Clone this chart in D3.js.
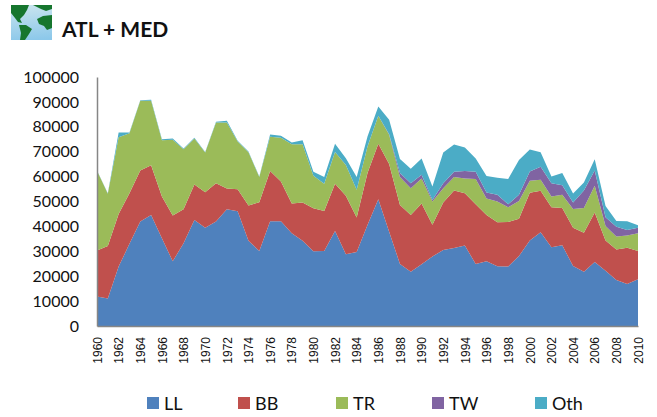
<!DOCTYPE html>
<html>
<head>
<meta charset="utf-8">
<script src="https://cdn.jsdelivr.net/npm/d3@7"></script>
<style>
  html, body { margin: 0; padding: 0; background: #fff; }
  svg { display: block; }
  text { font-family: Lato, "Open Sans", sans-serif; fill: #111; }
  .axis path { stroke: #868686; stroke-width: 1.5; }
  .axis line { display: none; }
  .x.axis text { font-family: "Liberation Sans", sans-serif; font-size: 12px; }
  .y.axis text { font-size: 16px; }
</style>
</head>
<body>
<svg id="chart" width="657" height="417"></svg>
<script>
const years = d3.range(1960, 2011)
const seriesNames = ['LL', 'BB', 'TR', 'TW', 'Oth']
const seriesColors = ['#4f81bd', '#c0504d', '#9bbb59', '#8064a2', '#4bacc6']
const yTicks = [0, 10000, 20000, 30000, 40000, 50000, 60000, 70000, 80000, 90000, 100000]

const LL = [11800, 11000, 23850, 33000, 42000, 44600, 35200, 26000, 33200, 42600,
  39500, 42000, 46900, 46100, 34200, 30150, 42100, 42100, 37250, 34200,
  30000, 30150, 38200, 28800, 29750, 40600, 50900, 37900, 24900, 21800,
  24800, 27900, 30550, 31300, 32300, 24900, 26000, 24000, 23850, 28100,
  34300, 37650, 31600, 32400, 24100, 21800, 25700, 22200, 18500, 16900,
  18800]
const BB = [18500, 21150, 21150, 20300, 20400, 20000, 16800, 18350, 13700, 14200,
  14200, 15350, 8300, 8800, 14200, 19550, 20100, 15900, 11950, 15400,
  17300, 16050, 18900, 23500, 13800, 20800, 22300, 27200, 23700, 22800,
  24400, 12800, 19050, 23100, 21000, 24000, 18600, 17700, 17950, 15000,
  19200, 16650, 16100, 15000, 15400, 15600, 19900, 12100, 12200, 14500,
  11350]
const TR = [32000, 20950, 30800, 24150, 28050, 25850, 22600, 30450, 24100, 18500,
  16000, 24350, 26500, 19200, 21400, 10100, 13800, 17600, 23800, 23400,
  13000, 10900, 12800, 12400, 11150, 10700, 11200, 11700, 11200, 10700,
  10000, 9300, 5700, 5400, 5900, 10100, 6600, 8300, 5900, 7150,
  4800, 4400, 4300, 5300, 7500, 10000, 10700, 5900, 5200, 4900,
  7100]
const TW = [0, 0, 0, 0, 0, 0, 0, 0, 0, 0,
  0, 0, 0, 0, 0, 0, 0, 0, 0, 0,
  0, 0, 0, 0, 0, 0, 0, 200, 1600, 2050,
  1500, 650, 2050, 2100, 3000, 2900, 2400, 2700, 1200, 2450,
  3700, 5300, 5350, 3800, 2600, 7000, 6100, 3500, 4000, 2300,
  2250]
const Oth = [200, 200, 1900, 250, 250, 450, 400, 500, 300, 300,
  200, 300, 700, 300, 300, 200, 900, 800, 700, 1600,
  1600, 2700, 3300, 2700, 5100, 4000, 3800, 5800, 5700, 5850,
  6600, 5350, 12350, 11000, 9500, 5400, 6600, 6800, 10100, 14000,
  8900, 5800, 2650, 4900, 3600, 3200, 4600, 4500, 2300, 3500,
  1000]

const margin = { left: 97, top: 77, right: 19, bottom: 91 }
const width = 657 - margin.left - margin.right
const height = 417 - margin.top - margin.bottom

const svg = d3.select('#chart')

/**
 * Draws the small globe picture next to the title.
 */
function drawIcon () {
  const defs = svg.append('defs')
  const sea = defs.append('linearGradient').attr('id', 'sea')
    .attr('x1', 0.4).attr('y1', 0).attr('x2', 0.5).attr('y2', 1)
  sea.append('stop').attr('offset', 0).attr('stop-color', '#c9e4ee')
  sea.append('stop').attr('offset', 1).attr('stop-color', '#8cc8ea')
  defs.append('filter').attr('id', 'soft')
    .append('feGaussianBlur').attr('stdDeviation', 0.6)

  const icon = svg.append('g').attr('transform', 'translate(11,5)')
  icon.append('rect').attr('width', 41).attr('height', 35).attr('fill', 'url(#sea)')
  const land = [
    'M0,0L18,0L16,5L13,10L9,14L11,18L7,17L4,13L0,8Z',
    'M22,0L41,0L41,4L35,6L30,4Z',
    'M26,14L32,11L41,10L41,23L36,25L33,21L28,19Z',
    'M8,20L15,20L21,24L18,29L14,35L9,35L10,28Z'
  ]
  icon.selectAll('path').data(land).join('path')
    .attr('d', d => d)
    .attr('fill', '#17762f')
    .attr('filter', 'url(#soft)')
}

/**
 * Draws the stacked areas and the two axes.
 */
function drawChart () {
  const rows = years.map((year, i) => ({
    year, LL: LL[i], BB: BB[i], TR: TR[i], TW: TW[i], Oth: Oth[i]
  }))
  const xScale = d3.scaleLinear().domain([1960, 2010]).range([0, width])
  const yScale = d3.scaleLinear().domain([0, 100000]).range([height, 0])
  const colorScale = d3.scaleOrdinal().domain(seriesNames).range(seriesColors)

  const stacked = d3.stack().keys(seriesNames)(rows)
  const area = d3.area()
    .x(d => xScale(d.data.year))
    .y0(d => yScale(d[0]))
    .y1(d => yScale(d[1]))

  const g = svg.append('g')
    .attr('transform', 'translate(' + margin.left + ',' + margin.top + ')')

  g.selectAll('.layer').data(stacked).join('path')
    .attr('class', 'layer')
    .attr('d', area)
    .attr('fill', d => colorScale(d.key))

  g.append('g')
    .attr('class', 'x axis')
    .attr('transform', 'translate(0,' + height + ')')
    .call(d3.axisBottom(xScale)
      .tickValues(years.filter(y => y % 2 === 0))
      .tickFormat(d3.format('d'))
      .tickSize(0)
      .tickSizeOuter(0))
    .selectAll('text')
    .attr('transform', 'rotate(-90)')
    .attr('text-anchor', 'end')
    .attr('x', -11)
    .attr('y', 0)
    .attr('dy', '0.35em')

  g.append('g')
    .attr('class', 'y axis')
    .call(d3.axisLeft(yScale)
      .tickValues(yTicks)
      .tickFormat(d3.format('d'))
      .tickSize(0)
      .tickSizeOuter(0)
      .tickPadding(18))
}

/**
 * Draws the title and the legend row.
 */
function drawLabels () {
  svg.append('text')
    .attr('x', 62)
    .attr('y', 37)
    .attr('font-size', 21)
    .attr('font-weight', 700)
    .text('ATL + MED')

  const legendX = d3.scaleOrdinal().domain(seriesNames).range([147, 238, 336, 432, 535])
  const item = svg.selectAll('.legend').data(seriesNames).join('g')
    .attr('class', 'legend')
    .attr('transform', d => 'translate(' + legendX(d) + ',397)')
  item.append('rect')
    .attr('width', 12)
    .attr('height', 12)
    .attr('fill', (d, i) => seriesColors[i])
  item.append('text')
    .attr('x', 17)
    .attr('y', 13)
    .attr('font-size', 18)
    .text(d => d)
}

drawChart()
drawIcon()
drawLabels()
</script>
</body>
</html>
